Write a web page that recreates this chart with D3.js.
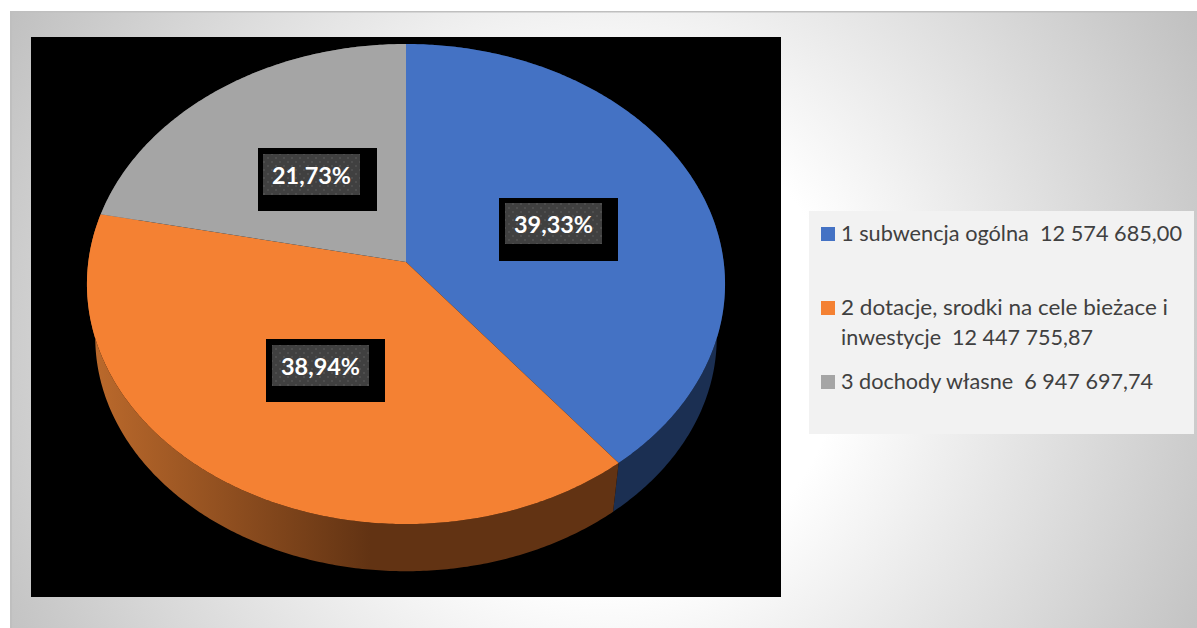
<!DOCTYPE html>
<html>
<head>
<meta charset="utf-8">
<script src="https://cdn.jsdelivr.net/npm/d3@7"></script>
<style>
html, body { margin: 0; padding: 0; background: #fff; }
svg { display: block; }
text { font-family: Lato, "Noto Sans", sans-serif; }
</style>
</head>
<body>
<div id="chart"></div>
<script>
const categories = ["1 subwencja ogólna", "2 dotacje, srodki na cele bieżace i inwestycje", "3 dochody własne"];
const values = [12574685.00, 12447755.87, 6947697.74];
const percentLabels = ["39,33%", "38,94%", "21,73%"];
const legendLines = [
    ["1 subwencja ogólna  12 574 685,00"],
    ["2 dotacje, srodki na cele bieżace i", "inwestycje  12 447 755,87"],
    ["3 dochody własne  6 947 697,74"]
];
const topColors = ["#4472c4", "#f48133", "#a5a5a5"];

const width = 1197, height = 628;

// CONFIGURATION AREA
const plot = {x: 31, y: 37, w: 750, h: 560};
const legendBox = {x: 809, y: 211, w: 385, h: 223};
const disc = {cx: 406, cy: 262, a: 317.7, b: 238, k: 0.0917};
const floorDisc = {cy: 316, scale: 0.974};
const labelBoxes = [
    {x: 499, y: 198, ix: 6, iy: 5},
    {x: 266, y: 339, ix: 6, iy: 6},
    {x: 258, y: 148, ix: 5, iy: 6}
];

// unit disc -> screen, front edge is nearer to the viewer
function project(theta, r, level) {
    const u = Math.sin(theta) * r, v = -Math.cos(theta) * r;
    const w = 1 - disc.k * v;
    const s = level === "floor" ? floorDisc.scale : 1;
    const cy = level === "floor" ? floorDisc.cy : disc.cy;
    return [disc.cx + s * disc.a * u / w, cy + s * disc.b * v / w];
}

function arcPoints(a0, a1, level) {
    const n = Math.max(2, Math.ceil((a1 - a0) / 0.01));
    return d3.range(n + 1).map(i => project(a0 + (a1 - a0) * i / n, 1, level));
}

const line = d3.line();

const svg = d3.select("#chart").append("svg")
    .attr("width", width)
    .attr("height", height)
    .attr("viewBox", `0 0 ${width} ${height}`);

const defs = svg.append("defs");

const panelGrad = defs.append("radialGradient")
    .attr("id", "panelGrad")
    .attr("gradientUnits", "userSpaceOnUse")
    .attr("cx", 604).attr("cy", 345).attr("r", 680);
panelGrad.append("stop").attr("offset", 0.35).attr("stop-color", "#ffffff");
panelGrad.append("stop").attr("offset", 1).attr("stop-color", "#c0c0c0");

const wallGrad = defs.append("linearGradient")
    .attr("id", "wallGrad")
    .attr("gradientUnits", "userSpaceOnUse")
    .attr("x1", 90).attr("x2", 370).attr("y1", 0).attr("y2", 0);
wallGrad.append("stop").attr("offset", 0).attr("stop-color", "#bc6a2c");
wallGrad.append("stop").attr("offset", 1).attr("stop-color", "#623313");

const dots = defs.append("pattern")
    .attr("id", "dots")
    .attr("patternUnits", "userSpaceOnUse")
    .attr("width", 8).attr("height", 8);
dots.append("rect").attr("width", 8).attr("height", 8).attr("fill", "#404040");
dots.append("rect").attr("x", 1).attr("y", 1).attr("width", 2).attr("height", 2).attr("fill", "#4e4e4e");
dots.append("rect").attr("x", 5).attr("y", 5).attr("width", 2).attr("height", 2).attr("fill", "#4e4e4e");

// DRAWING PART
svg.append("rect").attr("x", 10).attr("y", 11).attr("width", width - 10).attr("height", height - 11)
    .attr("fill", "url(#panelGrad)");
svg.append("rect").attr("x", 10).attr("y", 11).attr("width", width - 10).attr("height", 1.5).attr("fill", "#bfbfbf");
svg.append("rect").attr("x", 10).attr("y", 11).attr("width", 2).attr("height", height - 11).attr("fill", "#bfbfbf");
svg.append("rect").attr("x", plot.x).attr("y", plot.y).attr("width", plot.w).attr("height", plot.h)
    .attr("fill", "#000");

const slices = d3.pie().sort(null).value(d => d)(values);
const wallColors = ["#1b2f52", "url(#wallGrad)", "#5a5a5a"];

svg.append("g").selectAll("path")
    .data(slices)
    .join("path")
    .attr("fill", (d, i) => wallColors[i])
    .attr("d", d => line(arcPoints(d.startAngle, d.endAngle, "top")
        .concat(arcPoints(d.startAngle, d.endAngle, "floor").reverse())) + "Z");

svg.append("g").selectAll("path")
    .data(slices)
    .join("path")
    .attr("fill", (d, i) => topColors[i])
    .attr("d", d => line([project(0, 0, "top")].concat(arcPoints(d.startAngle, d.endAngle, "top"))) + "Z");

const labels = svg.append("g").selectAll("g")
    .data(percentLabels)
    .join("g")
    .attr("transform", (d, i) => `translate(${labelBoxes[i].x}, ${labelBoxes[i].y})`);
labels.append("rect").attr("width", 119).attr("height", 63).attr("fill", "#000");
labels.append("rect")
    .attr("x", (d, i) => labelBoxes[i].ix)
    .attr("y", (d, i) => labelBoxes[i].iy)
    .attr("width", 97).attr("height", 41).attr("fill", "url(#dots)");
labels.append("text")
    .attr("x", (d, i) => labelBoxes[i].ix + 48.5)
    .attr("y", (d, i) => labelBoxes[i].iy + 30)
    .attr("text-anchor", "middle")
    .attr("font-size", 23.5)
    .attr("font-weight", 700)
    .attr("fill", "#fff")
    .attr("textLength", 79)
    .attr("lengthAdjust", "spacingAndGlyphs")
    .text(d => d);

svg.append("rect").attr("x", legendBox.x).attr("y", legendBox.y).attr("width", legendBox.w).attr("height", legendBox.h)
    .attr("fill", "#f2f2f2");

const swatchY = [227, 301, 375];
const textY = [[241], [315, 345], [389]];
const textW = [[341], [327, 252], [312]];
categories.forEach((c, i) => {
    svg.append("rect").attr("x", 821).attr("y", swatchY[i]).attr("width", 14).attr("height", 14).attr("fill", topColors[i]);
    legendLines[i].forEach((t, j) => {
        svg.append("text")
            .attr("x", 841)
            .attr("y", textY[i][j])
            .attr("font-size", 21.5)
            .attr("fill", "#404040")
            .attr("textLength", textW[i][j])
            .attr("lengthAdjust", "spacingAndGlyphs")
            .style("white-space", "pre")
            .text(t);
    });
});
</script>
</body>
</html>
